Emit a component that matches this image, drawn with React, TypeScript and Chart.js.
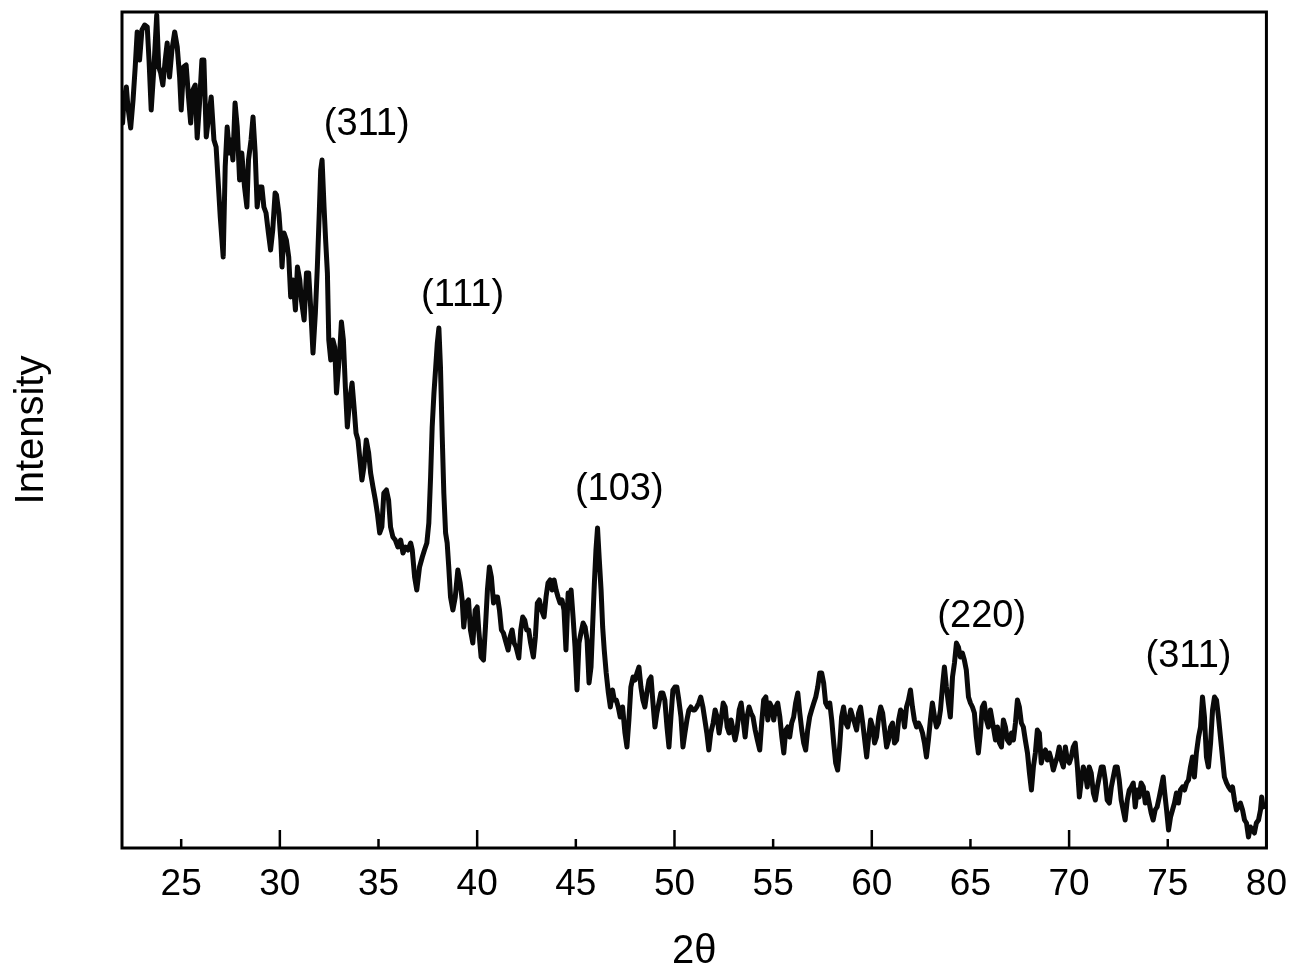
import React, { useEffect, useRef } from "react";
import { Chart, registerables } from "chart.js";

Chart.register(...registerables);

const twoTheta: number[] = [
  22.03, 22.10, 22.22, 22.30, 22.44, 22.56, 22.67, 22.77, 22.89, 23.01, 23.15, 23.28, 23.37, 23.48, 23.62, 23.76, 23.86, 23.96,
  24.07, 24.19, 24.29, 24.41, 24.53, 24.67, 24.80, 24.92, 25.00, 25.12, 25.25, 25.37, 25.48, 25.59, 25.71, 25.81, 25.93,
  26.05, 26.15, 26.27, 26.39, 26.52, 26.66, 26.77, 26.86, 26.98, 27.13, 27.23, 27.33, 27.45, 27.53, 27.62, 27.73, 27.84,
  27.96, 28.07, 28.21, 28.33, 28.41, 28.54, 28.64, 28.75, 28.85, 28.97, 29.09, 29.19, 29.30, 29.42, 29.53, 29.64, 29.76,
  29.83, 29.95, 30.05, 30.11, 30.21, 30.33, 30.45, 30.55, 30.67, 30.79, 30.89, 31.01, 31.09, 31.23, 31.35, 31.46, 31.56,
  31.68, 31.80, 31.90, 31.99, 32.07, 32.14, 32.24, 32.32, 32.41, 32.48, 32.58, 32.69, 32.78, 32.87, 32.95, 33.05, 33.12,
  33.22, 33.32, 33.42, 33.54, 33.66, 33.76, 33.86, 33.96, 34.06, 34.16, 34.26, 34.38, 34.50, 34.60, 34.72, 34.84, 34.94,
  35.06, 35.17, 35.27, 35.40, 35.51, 35.61, 35.73, 35.85, 35.98, 36.12, 36.24, 36.36, 36.49, 36.63,
  36.71, 36.83, 36.94, 37.08, 37.22, 37.33, 37.45, 37.55, 37.64, 37.72, 37.81, 37.89, 37.98, 38.06, 38.14, 38.23, 38.31,
  38.40, 38.48, 38.56, 38.65, 38.77, 38.89, 39.02, 39.14, 39.24, 39.32, 39.44, 39.56, 39.66, 39.78, 39.90, 40.00, 40.08,
  40.20, 40.32, 40.42, 40.52, 40.62, 40.72, 40.83, 40.93, 41.03, 41.13, 41.23, 41.33, 41.47, 41.57, 41.67, 41.77, 41.87,
  41.97, 42.11, 42.21, 42.31, 42.41, 42.51, 42.61, 42.71, 42.85, 42.95, 43.05, 43.15, 43.26, 43.39, 43.49, 43.59, 43.70,
  43.80, 43.90, 44.00, 44.10, 44.20, 44.30, 44.40, 44.50, 44.61,
  44.69, 44.76, 44.86, 44.96, 45.06, 45.16, 45.26, 45.37, 45.47, 45.57, 45.67, 45.77, 45.85, 45.94, 46.02, 46.10, 46.19,
  46.28, 46.36, 46.44, 46.54, 46.65, 46.75, 46.86, 46.95, 47.05, 47.15, 47.25, 47.37, 47.49, 47.59, 47.69, 47.79, 47.90,
  48.00, 48.10, 48.20, 48.30, 48.40, 48.50, 48.60, 48.71, 48.81, 48.91, 49.01, 49.11, 49.21, 49.31, 49.41, 49.51, 49.62,
  49.72, 49.82, 49.92, 50.02, 50.12, 50.22, 50.33, 50.43, 50.53, 50.63, 50.73, 50.83, 50.93, 51.03, 51.13, 51.23, 51.33,
  51.44, 51.54, 51.64, 51.74, 51.84,
  51.96, 52.06, 52.16, 52.26, 52.36, 52.47, 52.57, 52.67, 52.77, 52.87, 52.97, 53.07, 53.17, 53.28, 53.38, 53.48, 53.58,
  53.68, 53.78, 53.88, 53.98, 54.09, 54.20, 54.32, 54.42, 54.52, 54.63, 54.73, 54.83, 54.93, 55.03, 55.13, 55.23, 55.34,
  55.44, 55.54, 55.64, 55.74, 55.84, 55.94, 56.04, 56.14, 56.25, 56.35, 56.45, 56.55, 56.65, 56.75, 56.85, 56.95, 57.06,
  57.16, 57.26, 57.36, 57.46, 57.56, 57.66, 57.76, 57.87, 57.97, 58.07, 58.17, 58.27, 58.37, 58.47, 58.57, 58.68, 58.78,
  58.93, 59.03, 59.13, 59.23, 59.33, 59.43, 59.54, 59.64, 59.74, 59.84, 59.94, 60.04, 60.14, 60.24, 60.35, 60.45, 60.55,
  60.65, 60.75, 60.85, 60.95, 61.05, 61.15, 61.26, 61.36, 61.46, 61.56, 61.66, 61.76, 61.86, 61.96, 62.06, 62.16, 62.27,
  62.37, 62.47, 62.57, 62.67, 62.77, 62.87, 62.97, 63.07, 63.18, 63.28, 63.38, 63.48, 63.58, 63.68, 63.78, 63.88, 63.98,
  64.09, 64.19, 64.29, 64.39, 64.49, 64.59, 64.69, 64.79, 64.90, 65.00, 65.10, 65.20, 65.30, 65.40, 65.50, 65.60, 65.70,
  65.81, 65.91, 66.01,
  66.16, 66.27, 66.37, 66.47, 66.57, 66.67, 66.77, 66.87, 66.97, 67.08, 67.18, 67.28, 67.38, 67.48, 67.58, 67.68, 67.78,
  67.89, 67.99, 68.09, 68.19, 68.29, 68.39, 68.49, 68.59, 68.70, 68.80, 68.90, 69.00, 69.10, 69.20, 69.30, 69.40, 69.50,
  69.60, 69.71, 69.81, 69.91, 70.01, 70.11, 70.21, 70.31, 70.42, 70.52, 70.62, 70.72, 70.82, 70.92, 71.02, 71.12, 71.23,
  71.33, 71.43, 71.53, 71.63, 71.73, 71.83, 71.93, 72.04, 72.14, 72.24, 72.34, 72.44, 72.54, 72.64, 72.74, 72.84, 72.95,
  73.05, 73.15, 73.25,
  73.35, 73.45, 73.55, 73.65, 73.76, 73.86, 73.96, 74.06, 74.16, 74.26, 74.36, 74.46, 74.57, 74.67, 74.77, 74.83, 74.94,
  75.04, 75.14, 75.24, 75.34, 75.44, 75.54, 75.64, 75.75, 75.85, 75.95, 76.05, 76.15, 76.25, 76.35, 76.45, 76.56, 76.66,
  76.76, 76.86, 76.96, 77.06, 77.17, 77.27, 77.37, 77.47, 77.57, 77.67, 77.77, 77.87, 77.98, 78.08, 78.18, 78.28, 78.38,
  78.48, 78.58, 78.68, 78.79, 78.89, 78.99, 79.09, 79.19, 79.29, 79.39, 79.49, 79.60, 79.70, 79.76, 79.83,
];

const intensity: number[] = [
  725, 748, 761, 741, 720, 748, 781, 816, 788, 818, 823, 821, 788, 738, 781, 833, 781, 775,
  763, 788, 805, 771, 798, 816, 801, 771, 738, 781, 783, 751, 725, 758, 763, 710, 745,
  788, 788, 711, 731, 751, 708, 701, 671, 631, 591, 681, 721, 695, 708, 688, 745, 721,
  668, 695, 661, 641, 688, 708, 731, 695, 641, 661, 661, 641, 635, 615, 598, 618, 655,
  653, 635, 608, 581, 615, 608, 591, 551, 568, 538, 581, 568, 548, 528, 575, 575, 541,
  495, 535, 581, 631, 678, 688, 641, 608, 575, 508, 488, 508, 501, 455, 475, 501, 526,
  508, 461, 421, 448, 465, 441, 415, 408, 388, 368, 381, 408, 395, 375, 361, 348, 335,
  315, 321, 355, 358, 348, 321, 311, 308, 301, 308, 295, 301, 298, 305,
  298, 271, 258, 281, 291, 298, 305, 325, 371, 421, 455, 478, 505, 520, 481, 411, 355,
  315, 305, 281, 251, 238, 251, 278, 265, 248, 221, 245, 248, 218, 205, 238, 241, 218,
  191, 188, 221, 258, 281, 271, 245, 251, 251, 238, 218, 215, 205, 198, 211, 218, 205,
  201, 190, 218, 231, 228, 218, 218, 205, 191, 211, 245, 248, 238, 231, 251, 265, 268,
  258, 268, 258, 251, 245, 248, 238, 198, 255,
  248, 258, 231, 201, 158, 205, 215, 225, 221, 208, 165, 181, 221, 265, 298, 320, 288,
  258, 221, 198, 175, 155, 141, 158, 148, 148, 141, 131, 141, 115, 101, 128, 161, 171,
  168, 175, 181, 161, 148, 141, 155, 168, 171, 145, 121, 135, 145, 155, 155, 148, 121,
  101, 131, 158, 161, 161, 148, 131, 101, 115, 128, 138, 141, 138, 138, 141, 145, 151,
  141, 128, 115, 98, 115,
  125, 138, 131, 115, 128, 145, 141, 121, 115, 128, 118, 108, 118, 138, 145, 128, 111,
  131, 141, 135, 131, 118, 108, 98, 125, 148, 151, 128, 145, 141, 128, 141, 145, 131,
  111, 95, 118, 121, 111, 125, 131, 145, 155, 135, 118, 105, 98, 118, 131, 138, 145,
  151, 161, 175, 175, 165, 145, 141, 145, 128, 105, 85, 78, 101, 131, 141, 125, 121,
  138, 131, 125, 118, 135, 141, 125, 108, 91, 111, 128, 121, 105, 111, 131, 141, 135,
  118, 101, 108, 121, 125, 105, 108, 128, 138, 135, 121, 141, 148, 158, 141, 128, 121,
  125, 121, 115, 105, 91, 108, 128, 145, 131, 121, 125, 138, 161, 181, 161, 145, 131,
  171, 185, 205, 201, 191, 195, 188, 178, 151, 145, 141, 135, 111, 95, 115, 141, 145,
  128, 121, 138,
  121, 108, 121, 105, 101, 128, 121, 108, 105, 115, 108, 125, 148, 141, 125, 121, 108,
  95, 75, 58, 81, 95, 118, 115, 85, 95, 98, 88, 95, 88, 78, 85, 91, 101,
  88, 81, 101, 88, 85, 91, 101, 105, 81, 51, 68, 81, 75, 61, 81, 75, 55,
  48, 61, 71, 81, 81, 68, 48, 45, 61, 71, 81, 81, 68, 48, 38, 28, 48,
  58, 61, 65,
  41, 58, 51, 65, 61, 45, 55, 45, 35, 28, 38, 41, 51, 61, 71, 58, 38,
  18, 31, 38, 45, 55, 45, 58, 61, 58, 65, 68, 81, 91, 71, 95, 111, 121,
  151, 131, 91, 81, 105, 138, 151, 148, 131, 111, 91, 71, 65, 61, 58, 61, 48,
  38, 41, 45, 38, 28, 25, 11, 21, 18, 15, 25, 28, 38, 51, 41,
];

const xTickValues: number[] = [25, 30, 35, 40, 45, 50, 55, 60, 65, 70, 75, 80];

const peakLabels: string[] = ["(311)", "(111)", "(103)", "(220)", "(311)"];
const peakLabelX: number[] = [34.4, 39.26, 47.2, 65.57, 76.05];
const peakLabelY: number[] = [723, 552, 358, 231, 191];

const FONT = '"Liberation Sans", Arial, Helvetica, sans-serif';

const framePlugin = {
  id: "frameAndLabels",
  afterDatasetsDraw(chart: any) {
    const { ctx, chartArea, scales } = chart;
    const { left, top, right, bottom } = chartArea;
    const x = scales.x;
    const y = scales.y;
    ctx.save();
    ctx.strokeStyle = "#000";
    ctx.lineWidth = 3;
    ctx.strokeRect(left, top, right - left, bottom - top);
    ctx.lineWidth = 2.5;
    xTickValues.forEach((v) => {
      const px = x.getPixelForValue(v);
      const len = v % 10 === 0 ? 18 : 9;
      ctx.beginPath();
      ctx.moveTo(px, bottom);
      ctx.lineTo(px, bottom - len);
      ctx.stroke();
    });
    ctx.fillStyle = "#000";
    ctx.font = `38px ${FONT}`;
    ctx.textAlign = "center";
    ctx.textBaseline = "middle";
    peakLabels.forEach((t, i) => {
      ctx.fillText(t, x.getPixelForValue(peakLabelX[i]), y.getPixelForValue(peakLabelY[i]));
    });
    ctx.restore();
  },
};

export default function App() {
  const canvasRef = useRef<HTMLCanvasElement | null>(null);

  useEffect(() => {
    if (!canvasRef.current) return;
    const data = twoTheta.map((v, i) => ({ x: v, y: intensity[i] }));
    const chart = new Chart(canvasRef.current, {
      type: "line",
      data: {
        datasets: [
          {
            data,
            borderColor: "#0a0a0a",
            borderWidth: 5,
            pointRadius: 0,
            tension: 0,
            borderJoinStyle: "round",
            borderCapStyle: "round",
            fill: false,
          },
        ],
      },
      options: {
        responsive: false,
        animation: false,
        layout: { padding: { top: 12, right: 34, left: 0, bottom: 0 } },
        plugins: { legend: { display: false }, tooltip: { enabled: false } },
        scales: {
          x: {
            type: "linear",
            min: 22,
            max: 80,
            grid: { display: false, drawTicks: false },
            border: { display: false },
            afterBuildTicks: (scale: any) => {
              scale.ticks = xTickValues.map((v) => ({ value: v }));
            },
            afterFit: (scale: any) => {
              scale.height = 132;
            },
            ticks: {
              autoSkip: false,
              maxRotation: 0,
              padding: 15,
              color: "#000",
              font: { family: FONT, size: 37 },
              callback: (v: any) => String(v),
            },
            title: {
              display: true,
              text: "2θ",
              color: "#000",
              font: { family: FONT, size: 40 },
              padding: { top: 0, bottom: 4 },
            },
          },
          y: {
            type: "linear",
            min: 0,
            max: 836,
            grid: { display: false, drawTicks: false },
            border: { display: false },
            ticks: { display: false },
            afterFit: (scale: any) => {
              scale.width = 122;
            },
            title: {
              display: true,
              text: "Intensity",
              color: "#000",
              font: { family: FONT, size: 40 },
              padding: { top: 8, bottom: 0 },
            },
          },
        },
      },
      plugins: [framePlugin],
    });
    return () => chart.destroy();
  }, []);

  return (
    <div style={{ position: "absolute", left: 0, top: 0, width: 1302, height: 980, background: "#fff" }}>
      <canvas ref={canvasRef} width={1302} height={980} style={{ display: "block" }} />
    </div>
  );
}
